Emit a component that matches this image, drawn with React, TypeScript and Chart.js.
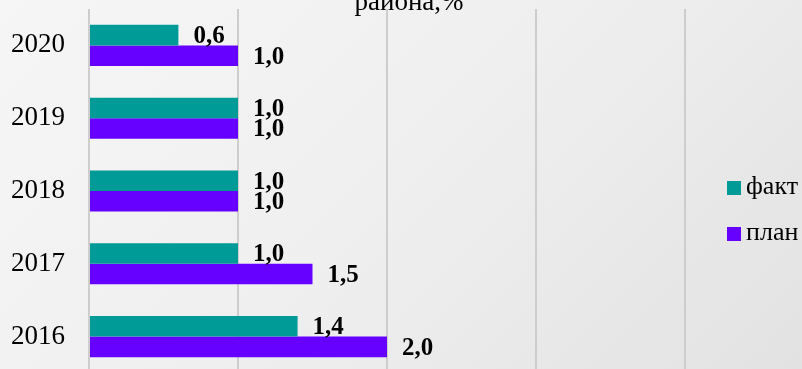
import React, { useEffect, useRef } from "react";
import { Chart, registerables } from "chart.js";

Chart.register(...registerables);

const categories = ["2020", "2019", "2018", "2017", "2016"];
const factValues = [0.6, 1.0, 1.0, 1.0, 1.4];
const planValues = [1.0, 1.0, 1.0, 1.5, 2.0];
const seriesNames = ["факт", "план"];
const titleText = "района,%";
const xTicks = [0, 1, 2, 3, 4, 5];

const TEAL = "#009a97";
const PURPLE = "#6600ff";

const labelsPlugin = {
  id: "customText",
  afterDatasetsDraw(chart: any) {
    const ctx = chart.ctx;
    ctx.save();
    // data labels
    ctx.font = "bold 25px 'Liberation Serif', 'Times New Roman', serif";
    ctx.fillStyle = "#000";
    ctx.textAlign = "left";
    ctx.textBaseline = "middle";
    chart.data.datasets.forEach((ds: any, di: number) => {
      const meta = chart.getDatasetMeta(di);
      meta.data.forEach((bar: any, i: number) => {
        const v = ds.data[i] as number;
        const txt = v.toFixed(1).replace(".", ",");
        ctx.fillText(txt, bar.x + 15, bar.y + 1.5);
      });
    });
    // title (partially cut off at the top)
    ctx.font = "27px 'Liberation Serif', 'Times New Roman', serif";
    ctx.textAlign = "center";
    ctx.textBaseline = "alphabetic";
    ctx.fillText(titleText, 409, 10);
    // legend
    ctx.font = "26px 'Liberation Serif', 'Times New Roman', serif";
    const items = chart.data.datasets;
    items.forEach((ds: any, i: number) => {
      const y = 181 + i * 46;
      ctx.fillStyle = ds.backgroundColor;
      ctx.fillRect(727, y, 14, 14);
      ctx.fillStyle = "#000";
      ctx.textAlign = "left";
      ctx.textBaseline = "middle";
      ctx.fillText(ds.label, 746, y + 6);
    });
    ctx.restore();
  },
};

export default function App() {
  const ref = useRef<HTMLCanvasElement | null>(null);
  useEffect(() => {
    if (!ref.current) return;
    const chart = new Chart(ref.current, {
      type: "bar",
      data: {
        labels: categories,
        datasets: [
          {
            label: seriesNames[0],
            data: factValues,
            backgroundColor: TEAL,
            borderWidth: 0,
            categoryPercentage: 0.565,
            barPercentage: 1,
          },
          {
            label: seriesNames[1],
            data: planValues,
            backgroundColor: PURPLE,
            borderWidth: 0,
            categoryPercentage: 0.565,
            barPercentage: 1,
          },
        ],
      },
      options: {
        indexAxis: "y",
        responsive: false,
        animation: false,
        devicePixelRatio: 1,
        layout: { autoPadding: false, padding: { top: 9, left: 0, right: 0, bottom: 0 } },
        plugins: {
          legend: { display: false },
          title: { display: false },
          tooltip: { enabled: false },
        },
        scales: {
          x: {
            min: 0,
            max: 5,
            afterBuildTicks: (scale: any) => {
              scale.ticks = xTicks.map((v) => ({ value: v }));
            },
            afterFit: (scale: any) => {
              scale.height = 0;
              scale.paddingLeft = 0;
              scale.paddingRight = 0;
              scale.paddingTop = 0;
              scale.paddingBottom = 0;
            },
            ticks: { display: false },
            grid: { color: "#cdcdcd", lineWidth: 2, drawTicks: false },
            border: { display: false },
          },
          y: {
            afterFit: (scale: any) => {
              scale.width = 89;
              scale.paddingLeft = 0;
              scale.paddingRight = 0;
              scale.paddingTop = 0;
              scale.paddingBottom = 0;
            },
            ticks: {
              padding: 24,
              color: "#000",
              font: { family: "'Liberation Serif', 'Times New Roman', serif", size: 27 },
            },
            grid: { display: false, drawTicks: false },
            border: { display: false },
          },
        },
      },
      plugins: [labelsPlugin],
    } as any);
    return () => chart.destroy();
  }, []);

  return (
    <div
      style={{
        position: "fixed",
        left: 0,
        top: 0,
        width: 802,
        height: 369,
        overflow: "hidden",
        background: "linear-gradient(135deg, #f6f6f6 0%, #efefef 50%, #e2e2e2 100%)",
      }}
    >
      <canvas ref={ref} width={834} height={373} style={{ display: "block", width: 834, height: 373 }} />
    </div>
  );
}
